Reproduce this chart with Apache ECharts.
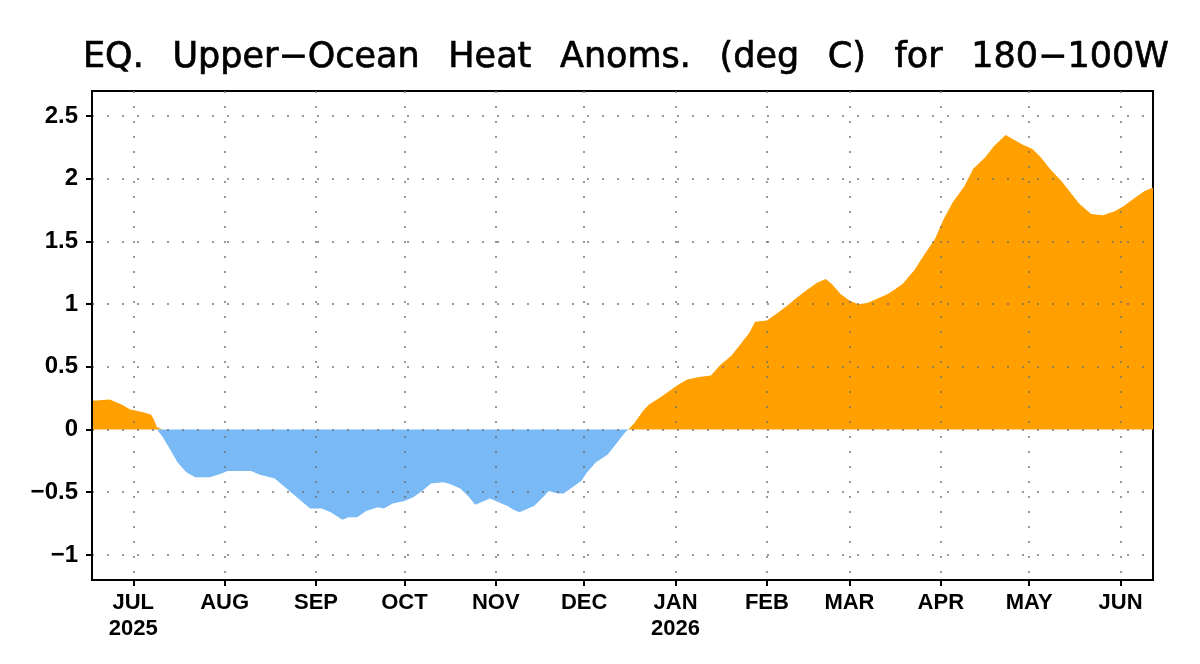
<!DOCTYPE html>
<html><head><meta charset="utf-8">
<script src="https://cdn.jsdelivr.net/npm/echarts@6.0.0/dist/echarts.min.js"></script>
<style>html,body{margin:0;padding:0;background:#fff}#chart{width:1200px;height:664px}</style>
</head><body><div id="chart"></div>
<script>
const titleText = 'EQ.\u2002 Upper\u2212Ocean\u2002 Heat\u2002 Anoms.\u2002 (deg\u2002 C)\u2002 for\u2002 180\u2212100W';
const dates = ['2025-06-17','2025-06-23','2025-06-27','2025-06-30','2025-07-04','2025-07-07','2025-07-08','2025-07-09','2025-07-11','2025-07-14','2025-07-16','2025-07-19','2025-07-22','2025-07-27','2025-07-31','2025-08-02','2025-08-10','2025-08-13','2025-08-18','2025-08-22','2025-08-27','2025-08-30','2025-09-03','2025-09-06','2025-09-10','2025-09-12','2025-09-15','2025-09-18','2025-09-22','2025-09-24','2025-09-27','2025-10-01','2025-10-04','2025-10-07','2025-10-10','2025-10-14','2025-10-16','2025-10-20','2025-10-23','2025-10-25','2025-10-27','2025-10-30','2025-11-01','2025-11-05','2025-11-07','2025-11-09','2025-11-11','2025-11-14','2025-11-17','2025-11-19','2025-11-22','2025-11-24','2025-11-27','2025-11-30','2025-12-02','2025-12-05','2025-12-09','2025-12-12','2025-12-15','2025-12-16','2025-12-18','2025-12-21','2025-12-23','2025-12-27','2025-12-30','2026-01-02','2026-01-05','2026-01-09','2026-01-13','2026-01-16','2026-01-20','2026-01-23','2026-01-26','2026-01-28','2026-02-01','2026-02-04','2026-02-08','2026-02-11','2026-02-15','2026-02-18','2026-02-21','2026-02-23','2026-02-26','2026-03-01','2026-03-04','2026-03-07','2026-03-10','2026-03-14','2026-03-16','2026-03-19','2026-03-23','2026-03-26','2026-03-30','2026-04-02','2026-04-05','2026-04-09','2026-04-12','2026-04-16','2026-04-19','2026-04-23','2026-04-26','2026-04-29','2026-05-02','2026-05-05','2026-05-08','2026-05-12','2026-05-15','2026-05-18','2026-05-22','2026-05-26','2026-05-30','2026-06-02','2026-06-06','2026-06-09','2026-06-12'];
const values = [0.23,0.24,0.20,0.16,0.14,0.12,0.08,0.02,-0.06,-0.18,-0.26,-0.34,-0.38,-0.38,-0.35,-0.33,-0.33,-0.36,-0.39,-0.47,-0.57,-0.63,-0.63,-0.66,-0.72,-0.70,-0.70,-0.65,-0.62,-0.63,-0.59,-0.57,-0.54,-0.49,-0.43,-0.42,-0.43,-0.47,-0.54,-0.60,-0.58,-0.55,-0.57,-0.61,-0.64,-0.66,-0.64,-0.61,-0.54,-0.49,-0.51,-0.51,-0.46,-0.41,-0.34,-0.26,-0.20,-0.11,-0.02,0.00,0.05,0.15,0.20,0.26,0.31,0.36,0.40,0.42,0.43,0.51,0.59,0.68,0.77,0.86,0.87,0.92,0.99,1.05,1.12,1.17,1.20,1.16,1.08,1.03,1.00,1.01,1.04,1.08,1.11,1.16,1.27,1.38,1.52,1.68,1.81,1.94,2.08,2.17,2.26,2.35,2.31,2.27,2.24,2.17,2.08,1.98,1.89,1.80,1.72,1.71,1.74,1.78,1.85,1.90,1.93];
const monthStarts = ['2025-07-01','2025-08-01','2025-09-01','2025-10-01','2025-11-01','2025-12-01','2026-01-01','2026-02-01','2026-03-01','2026-04-01','2026-05-01','2026-06-01'];
const monthLabels = ['JUL\n2025','AUG','SEP','OCT','NOV','DEC','JAN\n2026','FEB','MAR','APR','MAY','JUN'];
const yTicks = [-1,-0.5,0,0.5,1,1.5,2,2.5];
const yMin = -1.2, yMax = 2.7;
const posColor = '#FFA000', negColor = '#78B9F6';

const t0 = Date.UTC(2025,6,1);
const dayOf = s => Math.round((Date.parse(s) - t0) / 86400000);
const monthDays = monthStarts.map(dayOf);
const posData = dates.map((d,i) => [dayOf(d), Math.max(values[i], 0)]);
const negData = dates.map((d,i) => [dayOf(d), Math.min(values[i], 0)]);

const gridDot = {color:'rgba(110,110,110,0.7)', width:2, type:[2,13]};
const chart = echarts.init(document.getElementById('chart'), null, {renderer:'canvas'});
chart.setOption({
  animation:false,
  backgroundColor:'#fff',
  title:{text:titleText, left:78, top:35,
    textStyle:{fontFamily:'DejaVu Sans', fontSize:35, fontWeight:'normal', color:'#000',
      textBorderColor:'#000', textBorderWidth:0.7}},
  grid:{left:92, right:47, top:91, bottom:84, show:true, borderColor:'#000', borderWidth:2, backgroundColor:'transparent'},
  xAxis:{type:'value', min:dayOf(dates[0]), max:dayOf(dates[dates.length-1]), z:5,
    axisLine:{show:true, onZero:false, lineStyle:{color:'#000', width:2}},
    axisTick:{show:true, length:6, lineStyle:{color:'#000', width:2}, customValues:monthDays},
    axisLabel:{customValues:monthDays, margin:10, lineHeight:26,
      fontFamily:'Liberation Sans', fontSize:22, fontWeight:'bold', color:'#000',
      formatter:v => { const i = monthDays.indexOf(v); return i >= 0 ? monthLabels[i] : ''; }},
    splitLine:{show:true, lineStyle:gridDot}},
  yAxis:{type:'value', min:yMin, max:yMax, z:5,
    axisLine:{show:true, onZero:false, lineStyle:{color:'#000', width:2}},
    axisTick:{show:true, length:6, lineStyle:{color:'#000', width:2}, customValues:yTicks},
    axisLabel:{customValues:yTicks, margin:14,
      fontFamily:'Liberation Sans', fontSize:24, fontWeight:'bold', color:'#000',
      formatter:v => String(v).replace('-', '\u2212')},
    splitLine:{show:true, lineStyle:gridDot}},
  series:[
    {type:'line', data:posData, showSymbol:false, symbol:'none', smooth:false, z:2,
      lineStyle:{width:0}, itemStyle:{color:posColor}, areaStyle:{color:posColor, opacity:1, origin:0}},
    {type:'line', data:negData, showSymbol:false, symbol:'none', smooth:false, z:2,
      lineStyle:{width:0}, itemStyle:{color:negColor}, areaStyle:{color:negColor, opacity:1, origin:0}}
  ]
});
</script></body></html>
